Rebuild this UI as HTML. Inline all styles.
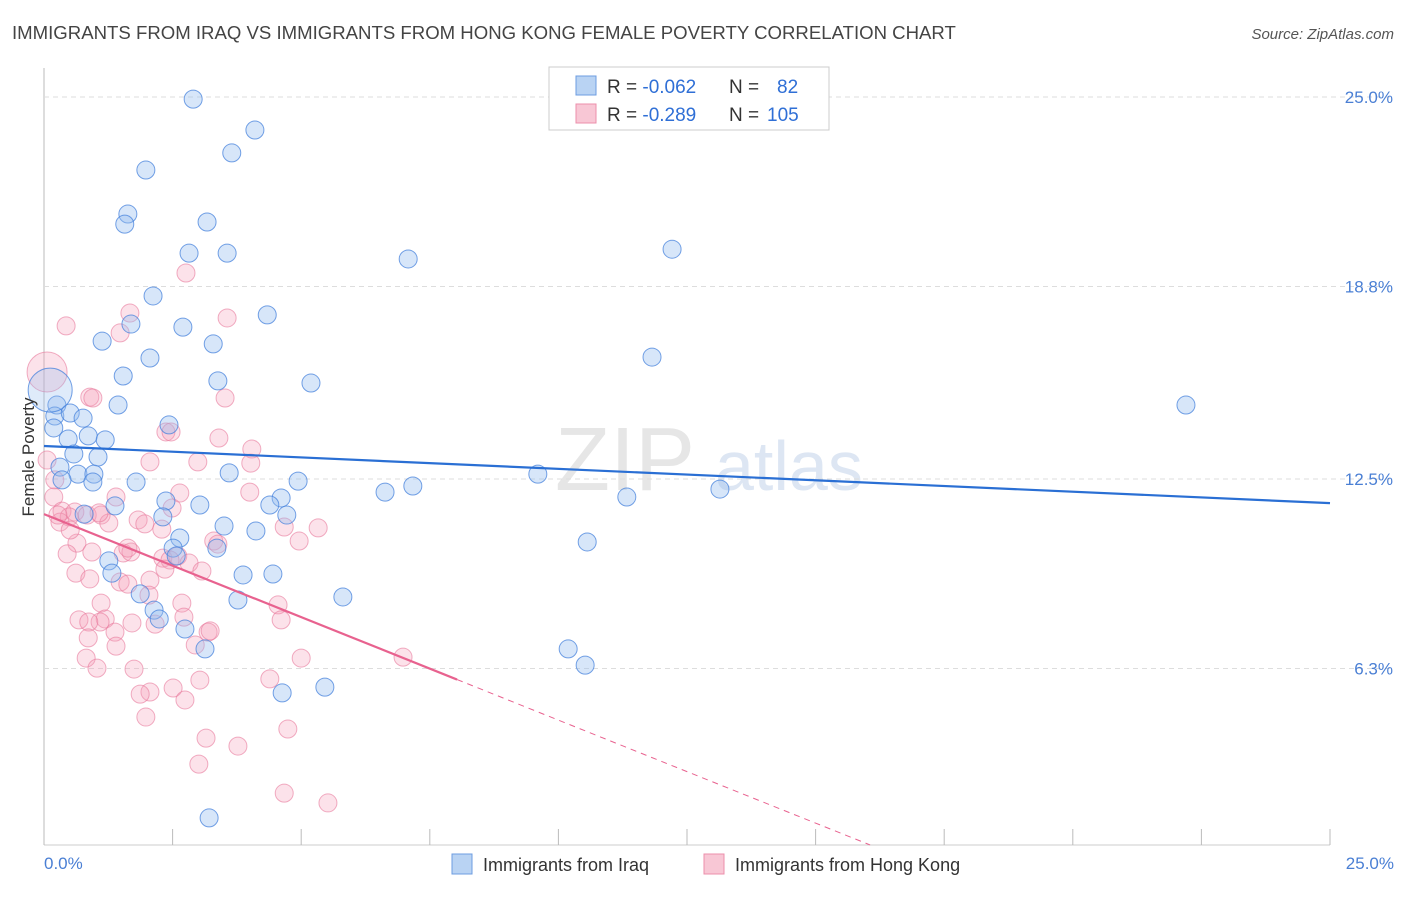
<!DOCTYPE html>
<html><head><meta charset="utf-8"><style>
body{margin:0;background:#fff;font-family:"Liberation Sans",sans-serif;}
svg text{font-family:"Liberation Sans",sans-serif;}
</style></head><body>
<svg id="chart" width="1406" height="892" xmlns="http://www.w3.org/2000/svg">
<text x="12" y="39" font-size="18.6" fill="#444">IMMIGRANTS FROM IRAQ VS IMMIGRANTS FROM HONG KONG FEMALE POVERTY CORRELATION CHART</text>
<text x="1394" y="39" font-size="15" fill="#555" font-style="italic" text-anchor="end">Source: ZipAtlas.com</text>
<text x="555" y="490" font-size="90" fill="#e6e6e6" font-family="Liberation Serif">ZIP</text>
<text x="715" y="490" font-size="70" fill="#dde6f3">atlas</text>
<g id="grid"></g>
<g id="pts"></g>
<g id="lines"></g>
<text transform="translate(34,457) rotate(-90)" font-size="17" fill="#333" text-anchor="middle">Female Poverty</text>
<text x="44" y="869" font-size="17" fill="#4a7fd4">0.0%</text>
<text x="1394" y="869" font-size="17" fill="#4a7fd4" text-anchor="end">25.0%</text>
<g>
<rect x="549" y="67" width="280" height="63" fill="#fff" stroke="#ccc"/>
<rect x="576" y="76" width="20" height="19" fill="#b9d3f3" stroke="#6d9de0"/>
<rect x="576" y="104" width="20" height="19" fill="#f8c7d5" stroke="#ec8fab"/>
<text x="607" y="93" font-size="19" fill="#333">R = <tspan fill="#2f6fd6">-0.062</tspan><tspan x="729">N = </tspan><tspan x="777" fill="#2f6fd6">82</tspan></text>
<text x="607" y="121" font-size="19" fill="#333">R = <tspan fill="#2f6fd6">-0.289</tspan><tspan x="729">N = </tspan><tspan x="767" fill="#2f6fd6">105</tspan></text>
</g>
<g><rect x="452" y="854" width="20" height="20" fill="#b9d3f3" stroke="#6d9de0"/><text x="483" y="871" font-size="18" fill="#333">Immigrants from Iraq</text></g>
<g><rect x="704" y="854" width="20" height="20" fill="#f8c7d5" stroke="#ec8fab"/><text x="735" y="871" font-size="18" fill="#333">Immigrants from Hong Kong</text></g>
</svg>
<script>
const yTicks=[25.0,18.8,12.5,6.3];
const xTickCount=10;
const iraqX=[2.90,4.10,3.65,1.98,1.63,1.57,3.17,2.82,3.56,7.08,12.21,2.12,4.34,1.69,2.70,1.13,3.29,2.06,11.82,1.54,3.38,5.19,22.20,1.44,0.25,0.21,0.51,0.76,0.19,2.43,0.47,0.86,1.19,0.58,1.05,0.31,0.66,0.97,0.35,0.95,1.79,3.60,4.94,9.60,6.63,7.17,11.33,13.14,2.37,3.03,4.61,4.39,1.38,0.78,2.31,4.72,3.50,4.12,2.64,2.51,3.36,10.56,1.26,2.57,1.32,3.87,4.45,5.81,3.77,1.87,2.14,2.24,2.74,3.13,10.19,10.52,4.63,5.46,3.21,0.12];
const iraqY=[24.93,23.92,23.17,22.61,21.17,20.84,20.91,19.89,19.89,19.70,20.02,18.49,17.87,17.57,17.47,17.01,16.92,16.46,16.49,15.87,15.71,15.64,14.92,14.92,14.92,14.56,14.66,14.49,14.17,14.27,13.81,13.91,13.78,13.32,13.22,12.89,12.66,12.66,12.47,12.40,12.40,12.70,12.43,12.66,12.07,12.27,11.91,12.17,11.78,11.65,11.88,11.65,11.62,11.35,11.26,11.32,10.96,10.80,10.57,10.24,10.24,10.44,9.82,9.98,9.42,9.36,9.39,8.64,8.54,8.74,8.21,7.92,7.59,6.94,6.94,6.41,5.50,5.69,1.41,15.41];
const hkX=[2.76,0.43,1.67,1.48,3.56,0.06,0.89,3.52,0.95,2.37,2.47,3.40,4.04,4.02,2.06,2.99,4.00,2.64,1.40,0.21,0.06,0.19,0.35,0.60,0.49,0.84,0.31,1.11,1.83,1.96,2.49,3.30,3.38,4.67,4.96,5.33,0.64,0.93,0.45,1.54,1.69,2.31,2.60,2.45,2.82,2.35,3.07,0.62,0.89,1.48,1.63,2.06,2.04,2.68,1.11,0.68,1.19,1.38,1.09,0.87,1.71,2.16,2.72,3.19,4.55,4.61,2.94,3.23,0.86,1.40,0.82,1.03,1.75,5.00,6.98,4.39,3.03,2.51,2.06,1.87,2.74,4.74,1.98,3.15,3.77,3.01,4.67,5.52,0.27,0.51,2.29,1.26,1.63,1.07];
const hkY=[19.24,17.51,17.93,17.28,17.77,16.00,15.18,15.15,15.15,14.04,14.04,13.84,13.48,13.02,13.06,13.06,12.07,12.04,11.91,12.47,13.12,11.91,11.45,11.42,11.26,11.32,11.09,11.32,11.16,11.03,11.55,10.47,10.37,10.93,10.47,10.90,10.40,10.11,10.05,10.08,10.11,9.91,9.98,9.85,9.75,9.55,9.49,9.42,9.23,9.13,9.06,9.19,8.70,8.44,8.44,7.89,7.92,7.49,7.82,7.82,7.79,7.75,7.98,7.49,8.38,7.89,7.07,7.53,7.30,7.03,6.64,6.31,6.28,6.64,6.67,5.96,5.92,5.66,5.53,5.46,5.27,4.32,4.71,4.02,3.76,3.17,2.22,1.90,11.32,10.83,10.86,11.06,10.24,11.39];
const iraqTrend=[13.58,11.71];
const hkTrend=[11.35,-0.674];
const NS="http://www.w3.org/2000/svg";
const X=v=>44+v/25*1286;
const Y=v=>861-v/6.25*191;
function mk(t,a,p){const e=document.createElementNS(NS,t);for(const k in a)e.setAttribute(k,a[k]);p.appendChild(e);return e;}
const grid=document.getElementById('grid');
mk('line',{x1:44,y1:68,x2:44,y2:845,stroke:'#bbb'},grid);
mk('line',{x1:44,y1:845,x2:1330,y2:845,stroke:'#ccc'},grid);
yTicks.forEach(t=>{
 const g=mk('line',{x1:44,y1:Y(t),x2:1394,y2:Y(t),stroke:'#ddd','stroke-dasharray':'5,4'},grid);
 
 
 const l=mk('text',{x:1393,y:Y(t)+6,'font-size':17,fill:'#4a7fd4','text-anchor':'end'},grid);
 l.textContent=t.toFixed(1)+'%';
 
 
});
for(let i=0;i<=xTickCount;i++){
 const x=X(25*i/xTickCount);
 const t=mk('line',{x1:x,y1:829,x2:x,y2:845,stroke:'#bbb'},grid);
 
 
}
const pts=document.getElementById('pts');
hkX.forEach((v,i)=>{
 const big=(i===5);
 const c=mk('circle',{cx:X(v),cy:Y(hkY[i]),r:big?20:9,fill:'rgba(244,160,185,0.3)',stroke:'rgba(232,120,155,0.6)','stroke-width':1},pts);
 
 
});
iraqX.forEach((v,i)=>{
 const big=(i===iraqX.length-1);
 const c=mk('circle',{cx:X(v),cy:Y(iraqY[i]),r:big?22:9,fill:big?'rgba(150,190,240,0.3)':'rgba(150,190,240,0.38)',stroke:'rgba(70,130,220,0.75)','stroke-width':1},pts);
 
 
});
const lines=document.getElementById('lines');
const bl=mk('line',{x1:X(0),y1:Y(iraqTrend[0]),x2:X(25),y2:Y(iraqTrend[1]),stroke:'#2a6fd4','stroke-width':2.2},lines);


const hk=v=>hkTrend[0]+hkTrend[1]*v;
const pl=mk('line',{x1:X(0),y1:Y(hk(0)),x2:X(8.03),y2:Y(hk(8.03)),stroke:'#e8628f','stroke-width':2.2},lines);


const pd=mk('line',{x1:X(8.03),y1:Y(hk(8.03)),x2:X(16.06),y2:Y(hk(16.06)),stroke:'#e8628f','stroke-width':1,'stroke-dasharray':'6,5'},lines);


</script>
</body></html>
